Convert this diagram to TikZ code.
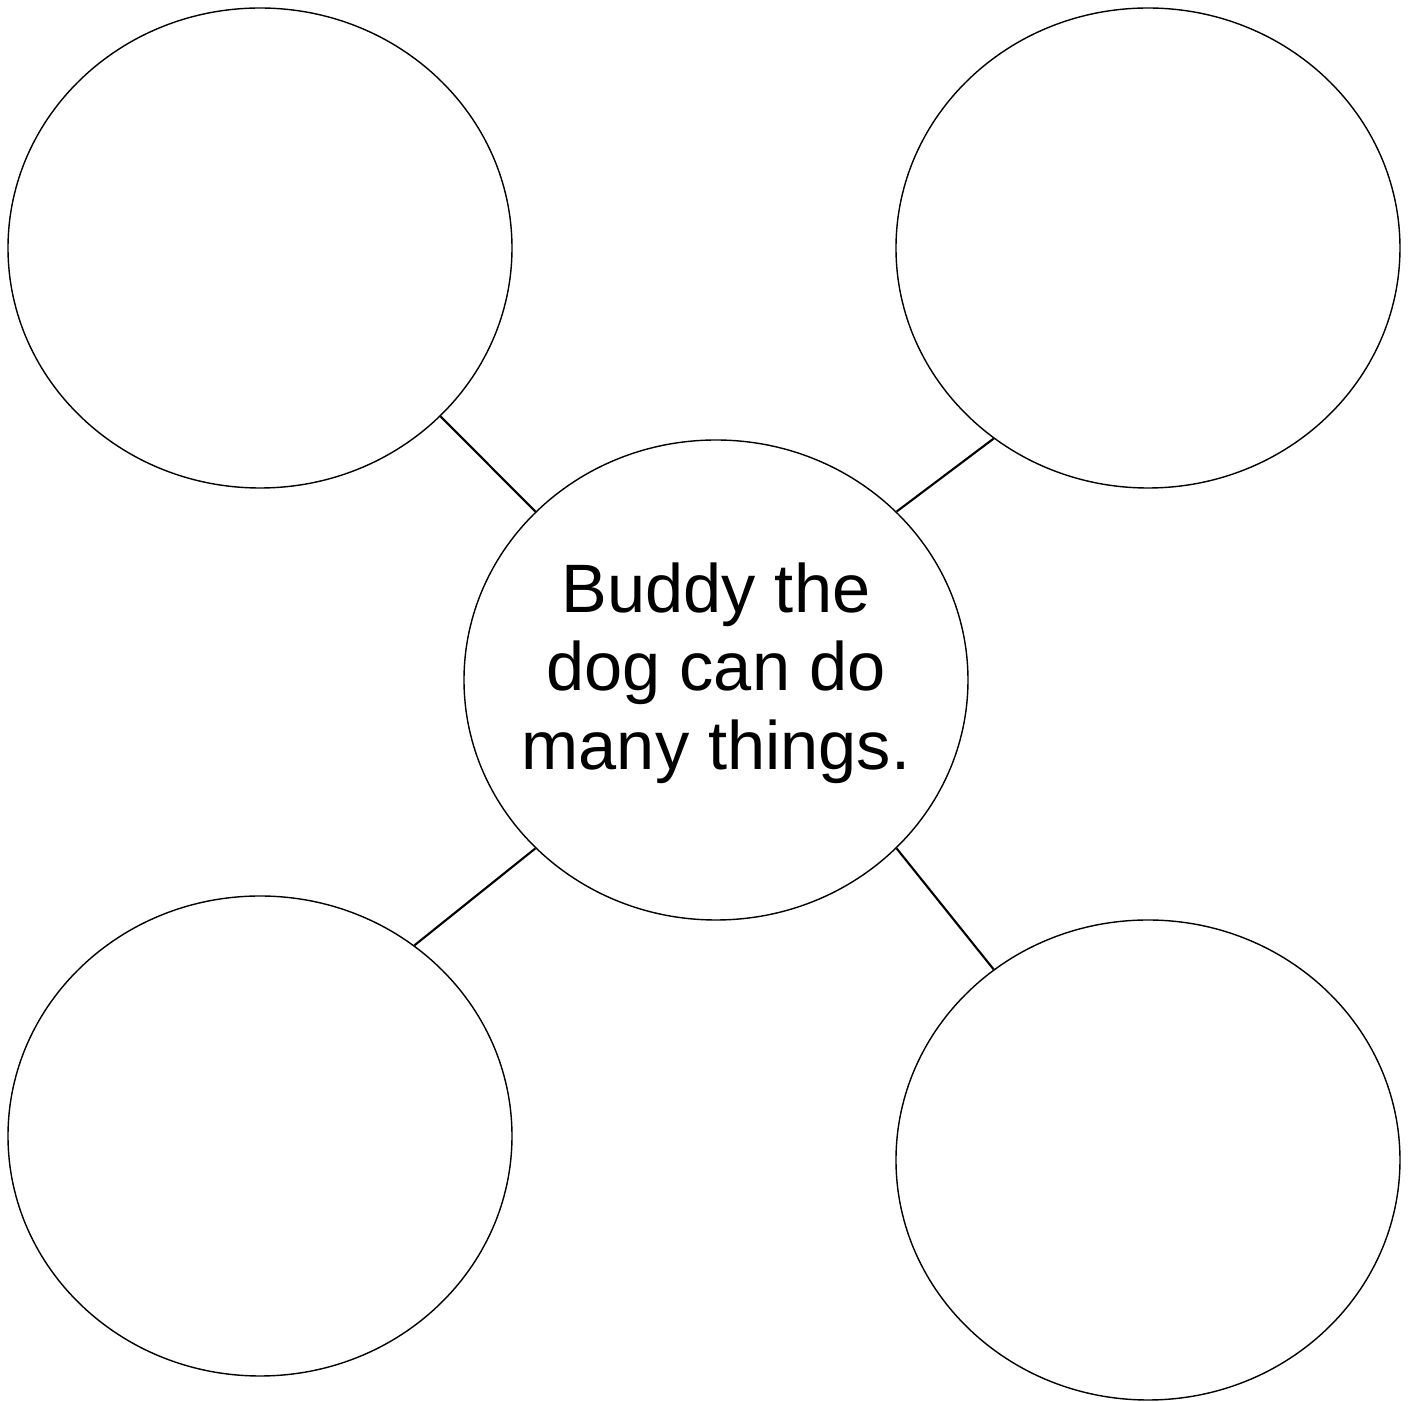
\documentclass[tikz,border=0pt]{standalone}
\usepackage{fontspec}
\setmainfont{Liberation Sans}
\usepackage{tikz}
\usetikzlibrary{positioning,shapes.geometric}

\begin{document}
\begin{tikzpicture}[
    bubble/.style={ellipse, draw, line width=0.4pt, inner sep=0pt, minimum width=5.04cm, minimum height=4.8cm},
    spoke/.style={line width=0.6pt},
    font=\fontsize{19.5}{22.3}\selectfont]
        \useasboundingbox (0,0) rectangle (14.13,14.02);

        % Central idea
        \node[bubble, label={[align=center, yshift=2pt]center:Buddy the\\dog can do\\many things.}] (idea) at (7.16, 7.22) {};

        % Empty bubbles
        \node[bubble] (topLeft) at (2.60, 11.54) {};
        \node[bubble] (topRight) at (11.48, 11.54) {};
        \node[bubble] (bottomLeft) at (2.60, 2.66) {};
        \node[bubble] (bottomRight) at (11.48, 2.42) {};

        % Spokes
        \draw[spoke] (idea.137) -- (topLeft.-43);
        \draw[spoke] (idea.43) -- (topRight.-129);
        \draw[spoke] (idea.-137) -- (bottomLeft.51);
        \draw[spoke] (idea.-43) -- (bottomRight.129);
    \end{tikzpicture}
\end{document}
